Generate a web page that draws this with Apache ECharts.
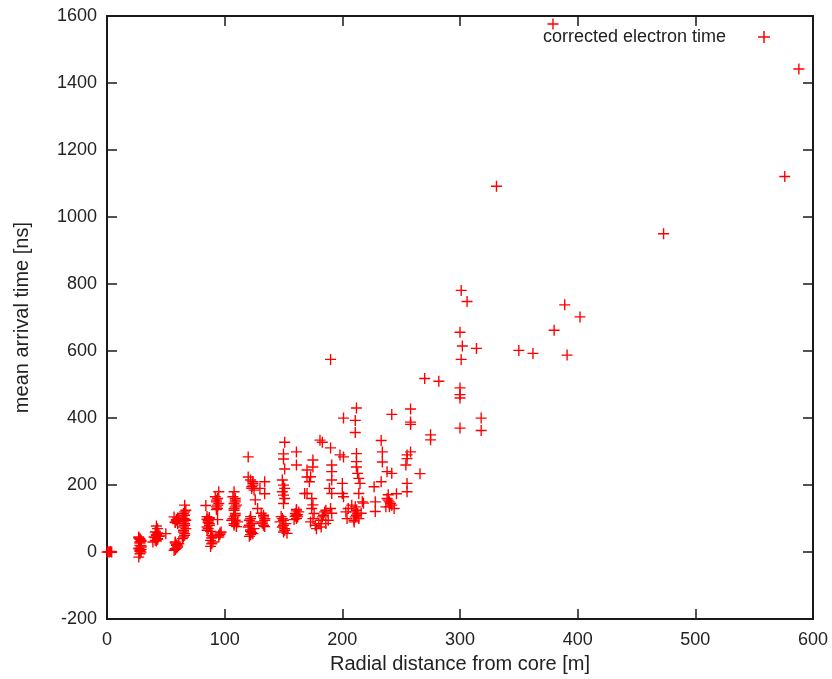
<!DOCTYPE html>
<html>
<head>
<meta charset="utf-8">
<script src="https://cdn.jsdelivr.net/npm/echarts@6/dist/echarts.min.js"></script>
<style>
html,body{margin:0;padding:0;background:#fff;}
#chart{width:832px;height:679px;}
</style>
</head>
<body>
<div id="chart"></div>
<script>
// Radial distance from core [m]
const distance = [
  0,1,2,3,4,
  27,28,29,28,27,29,28,28,29,28,27, 28,29,27,28,29,28,27,29,
  39,41,43,40,42,44,41,43,42,45, 42,43,41,44,42,43,
  50,
  57,58,60,59,61,58,60,58,59,61,57,60, 58,59,60,58,59,60,59,58,
  64,66,65,67,65,66,67,65,66,67,66,64, 65,66,65,66,65,66,65,66,
  84,85,86,87,85,88,86,89,90,88,89,87, 85,86,87,86,85,87,89,88,90,
  95,92,93,94,93,94,96,95,97,93, 94,95,93,94,95,96,
  108,107,109,110,108,109,107,111,108,110,109,106, 108,109,108,109,108,109,108,109,
  120,120,122,124,123,125,126,122,121,123,120,122,124,121,125, 122,123,122,121,123,122,123,124,124,
  134,134,128,131,133,134,132,134,130, 133,132,134,133,
  151,150,150,151,149,150,151,149,150,151,150,148,150,152,149,151,153,147, 150,151,150,149,
  161,161,161,160,162,159,161,163, 161,160,162,161,
  170,170,170,175,175,173,172,168,174,175,174,176,175,173,177, 178,180,182,184,186,
  181,183,190,191,191,191,189,191,191,185,183,188,186,182,190,190,
  198,201,200,200,201,201,205,204,203,
  211,211,212,212,214,215,214,217,212,208,210,212,214,210,216,218,213,212, 210,211,213,212,211,
  233,234,234,238,242,233,227,246,239,228,228,238,240,242,237,244,242, 240,241,239,
  258,258,258,258,255,255,254,255,255,266,
  270,282,275,275,300,300,300,300,318,318,
  301,306,389,402,380,300,302,314,350,362,391,301,331,473,576,588,379
];
// Mean arrival time [ns]
const arrivalTime = [
  0,1,0,2,0,
  -15,-5,0,5,10,15,20,30,35,40,45, 2,8,12,27,32,38,42,18,
  30,35,40,45,50,55,60,70,78,48, 33,38,43,47,52,57,
  55,
  5,10,15,20,25,30,85,90,95,100,105,92, 88,97,102,8,12,18,22,27,
  40,50,60,70,75,85,95,100,110,125,140,105, 45,55,65,80,90,98,115,120,
  139,106,95,85,75,62,90,42,30,17,50,100, 65,70,80,88,98,103,25,35,45,
  180,165,150,140,127,97,53,45,60,135, 130,145,155,160,50,57,
  180,165,150,140,125,110,100,90,80,76,155,95, 85,95,105,115,130,135,145,160,
  284,224,215,205,195,185,156,106,95,85,75,62,55,47,70, 52,58,66,80,90,100,190,200,210,
  210,174,130,116,105,95,86,76,190, 80,90,100,110,
  328,293,278,248,215,200,190,180,170,160,145,106,95,85,75,65,56,90, 60,70,80,100,
  299,260,127,115,105,97,110,120, 100,107,112,123,
  245,224,175,275,254,225,210,175,160,141,130,115,100,90,80, 70,85,95,110,125,
  334,328,311,260,240,215,190,175,116,120,105,95,85,75,130,575,
  290,284,205,175,165,400,130,100,120,
  393,357,294,254,220,205,175,150,430,140,120,110,100,90,116,146,235,270, 95,105,115,125,135,
  333,299,269,240,235,210,195,174,171,150,121,160,150,140,135,130,411, 135,145,155,
  427,388,381,299,290,279,260,205,180,234,
  518,510,350,335,370,460,470,490,400,363,
  781,748,738,702,662,656,615,608,602,593,588,575,1092,950,1121,1442,1576
];
const xTicks = {min: 0, max: 600, step: 100};
const yTicks = {min: -200, max: 1600, step: 200};
const seriesName = 'corrected electron time';

const points = distance.map((d, i) => [d, arrivalTime[i]]);
const plus = 'path://M0,10.5H24V13.5H0Z M10.5,0H13.5V24H10.5Z';
const FONT = 'Liberation Sans, Arial, sans-serif';
const axisColor = '#1a1a1a';
const textColor = '#222';
const plain = v => String(v);

const baseX = {
  type: 'value', min: xTicks.min, max: xTicks.max, interval: xTicks.step,
  splitLine: {show: false},
  axisLine: {show: true, onZero: false, lineStyle: {color: axisColor, width: 2}},
  axisTick: {show: true, inside: true, length: 10, lineStyle: {color: axisColor, width: 1.5}}
};
const baseY = {
  type: 'value', min: yTicks.min, max: yTicks.max, interval: yTicks.step,
  splitLine: {show: false},
  axisLine: {show: true, onZero: false, lineStyle: {color: axisColor, width: 2}},
  axisTick: {show: true, inside: true, length: 10, lineStyle: {color: axisColor, width: 1.5}}
};

const chart = echarts.init(document.getElementById('chart'), null, {renderer: 'canvas'});
chart.setOption({
  backgroundColor: '#fff',
  animation: false,
  grid: {left: 107, right: 19, top: 16, bottom: 56, containLabel: false},
  legend: {
    show: true, right: 57, top: 23, align: 'right', orient: 'vertical',
    itemWidth: 12, itemHeight: 12,
    icon: plus,
    textStyle: {fontFamily: FONT, fontSize: 18, color: textColor, padding: [0, 27, 0, 0]},
    data: [seriesName]
  },
  xAxis: [
    Object.assign({}, baseX, {
      position: 'bottom',
      name: 'Radial distance from core [m]', nameLocation: 'middle', nameGap: 31,
      nameTextStyle: {fontFamily: FONT, fontSize: 20, color: textColor},
      axisLabel: {fontFamily: FONT, fontSize: 18, color: textColor, margin: 12, formatter: plain}
    }),
    Object.assign({}, baseX, {position: 'top', axisLabel: {show: false}})
  ],
  yAxis: [
    Object.assign({}, baseY, {
      position: 'left',
      name: 'mean arrival time [ns]', nameLocation: 'middle', nameGap: 75,
      nameTextStyle: {fontFamily: FONT, fontSize: 20, color: textColor},
      axisLabel: {fontFamily: FONT, fontSize: 18, color: textColor, margin: 10, formatter: plain}
    }),
    Object.assign({}, baseY, {position: 'right', axisLabel: {show: false}})
  ],
  series: [{
    name: seriesName,
    type: 'scatter',
    xAxisIndex: 0, yAxisIndex: 0,
    symbol: plus,
    symbolSize: 11,
    itemStyle: {color: '#ff0000', opacity: 1},
    data: points
  }]
});
</script>
</body>
</html>
